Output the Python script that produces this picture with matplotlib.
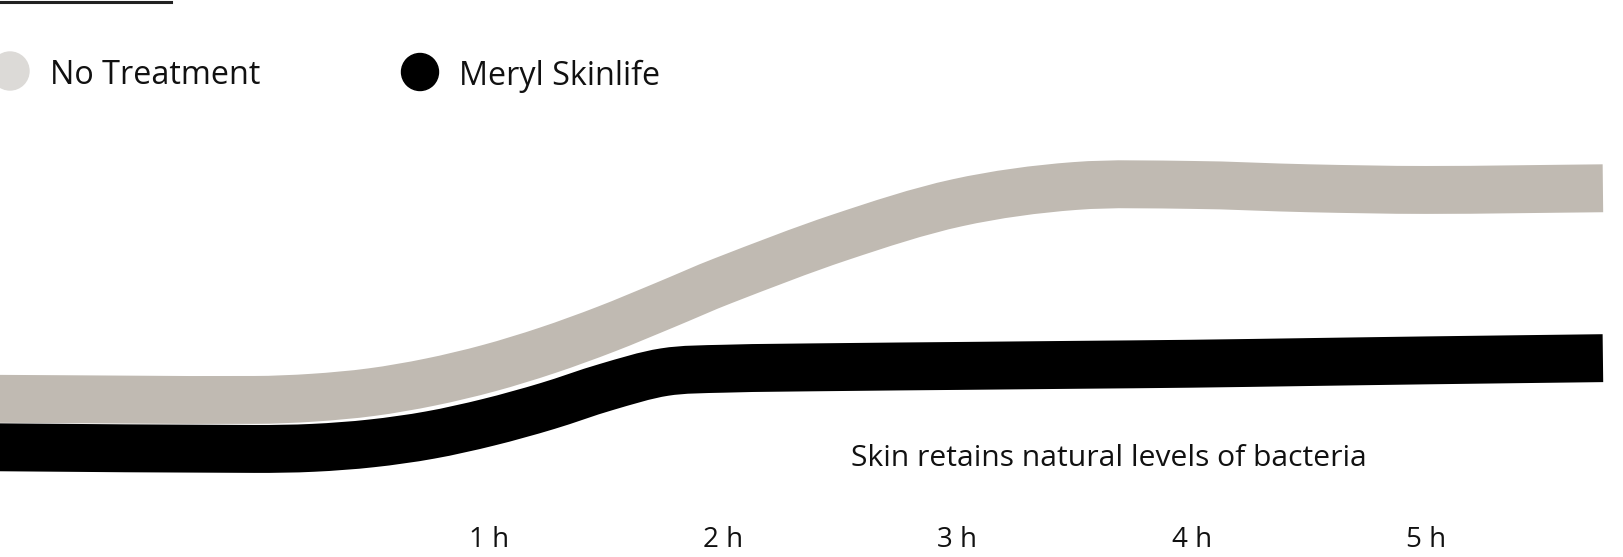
import numpy as np
import matplotlib
matplotlib.use("Agg")
import matplotlib.pyplot as plt
from matplotlib.path import Path
from matplotlib.patches import PathPatch, Circle
from matplotlib.lines import Line2D
from matplotlib.transforms import IdentityTransform

# hours after application (x) and relative bacteria level (y)
hours = [-1.1, 0, 0.25, 0.5, 0.75, 1, 1.25, 1.5, 1.75, 2, 2.5, 3, 3.5, 4, 4.5, 5, 5.755]
no_treatment = [28.4, 28.2, 28.6, 29.6, 31.4, 33.9, 37.1, 40.9, 45.2, 49.6, 57.4, 63.6, 66.6, 66.8, 66.2, 65.9, 66.2]
meryl = [19.7, 19.4, 19.6, 20.4, 21.9, 24.2, 27.1, 30.5, 33.2, 33.8, 34.1, 34.3, 34.5, 34.7, 35.0, 35.3, 35.7]

series_names = ["No Treatment", "Meryl Skinlife"]
tick_hours = [1, 2, 3, 4, 5]
tick_labels = ["1 h", "2 h", "3 h", "4 h", "5 h"]
note = "Skin retains natural levels of bacteria"

GREY = "#c0bab2"
LEGEND_GREY = "#dcdad7"
FONT = ["Open Sans", "DejaVu Sans"]

W, H = 1624, 557


def smooth_path(x, y):
    # cubic hermite through the points (tangents from neighbours), as bezier segments
    x = np.asarray(x, float)
    y = np.asarray(y, float)
    n = len(x)
    m = np.zeros(n)
    m[0] = (y[1] - y[0]) / (x[1] - x[0])
    m[-1] = (y[-1] - y[-2]) / (x[-1] - x[-2])
    for i in range(1, n - 1):
        m[i] = (y[i + 1] - y[i - 1]) / (x[i + 1] - x[i - 1])
    verts = [(x[0], y[0])]
    codes = [Path.MOVETO]
    for i in range(n - 1):
        h = x[i + 1] - x[i]
        verts += [(x[i] + h / 3, y[i] + m[i] * h / 3),
                  (x[i + 1] - h / 3, y[i + 1] - m[i + 1] * h / 3),
                  (x[i + 1], y[i + 1])]
        codes += [Path.CURVE4] * 3
    return Path(verts, codes)


fig = plt.figure(figsize=(W / 100, H / 100), dpi=100)
ax = fig.add_axes([0, 0, 1, 1])
ax.set_xlim(-1.086, 5.845)
ax.set_ylim(0, 100)
for s in ax.spines.values():
    s.set_visible(False)
ax.set_yticks([])

for vals, col in [(no_treatment, GREY), (meryl, "black")]:
    patch = PathPatch(smooth_path(hours, vals), fill=False, edgecolor=col,
                      linewidth=34.5, capstyle="butt", joinstyle="round")
    ax.add_patch(patch)

ax.set_xticks(tick_hours, tick_labels)
ax.tick_params(axis="x", length=0, pad=-22)
for lab in ax.get_xticklabels():
    lab.set_fontfamily(FONT)
    lab.set_fontsize(20)
    lab.set_color("#111111")

ax.text(851 / W, 1 - 458 / H, note, transform=ax.transAxes, ha="left", va="center",
        fontsize=21.6, family=FONT, color="#111111")

# legend, drawn by hand
px = IdentityTransform()
fig.add_artist(Circle((10, H - 71), 19, transform=px, color=LEGEND_GREY))
fig.add_artist(Circle((420, H - 72), 18.5, transform=px, color="black"))
fig.text(50 / W, 1 - 76 / H, series_names[0], ha="left", va="center",
         fontsize=23.3, family=FONT, color="#111111")
fig.text(459 / W, 1 - 76 / H, series_names[1], ha="left", va="center",
         fontsize=23.3, family=FONT, color="#111111")

# short rule at the top left
fig.add_artist(Line2D([0, 171], [H - 1.5, H - 1.5], transform=px, color="#222222", linewidth=2.2))

fig.savefig("out.png", dpi=100)
